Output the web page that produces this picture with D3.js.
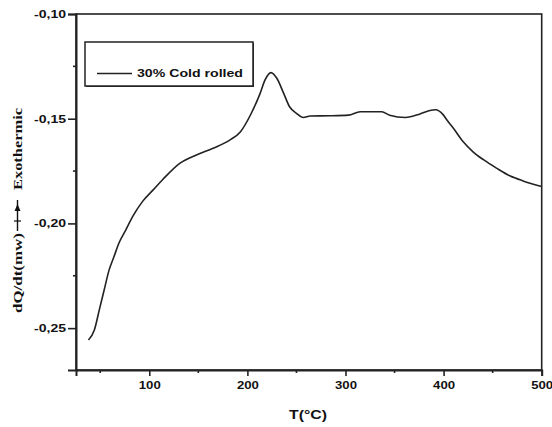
<!DOCTYPE html>
<html>
<head>
<meta charset="utf-8">
<script src="https://cdn.jsdelivr.net/npm/d3@7"></script>
<style>
  html, body { margin: 0; padding: 0; background: #fff; }
  svg { display: block; }
  text { fill: #111; }
</style>
</head>
<body>
<svg id="chart" width="552" height="427"></svg>
<script>
// DSC trace of the 30% cold rolled sample: heat flow vs temperature
const temperature = [38, 44, 49, 54, 59, 64, 69, 76, 83, 93, 104, 114, 131, 148, 165, 182, 193, 204, 213, 218, 224, 230, 237, 243, 250, 257, 264, 284, 303, 315, 337, 345, 361, 376, 385, 392, 399, 404, 410, 420, 430, 441, 454, 468, 481, 500];
const heatFlow = [-0.2557, -0.2509, -0.2414, -0.2318, -0.2223, -0.2159, -0.2095, -0.2032, -0.1968, -0.1896, -0.1840, -0.1789, -0.1713, -0.1673, -0.1641, -0.1602, -0.1562, -0.1474, -0.1379, -0.1315, -0.1280, -0.1307, -0.1379, -0.1443, -0.1474, -0.1494, -0.1487, -0.1486, -0.1483, -0.1467, -0.1467, -0.1483, -0.1494, -0.1477, -0.1462, -0.1457, -0.1478, -0.1510, -0.1546, -0.1610, -0.1658, -0.1697, -0.1736, -0.1774, -0.1797, -0.1824];
const xTicks = [100, 200, 300, 400, 500];
const xMinorTicks = [50, 150, 250, 350, 450];
const yTicks = [-0.10, -0.15, -0.20, -0.25];
const yMinorTicks = [-0.125, -0.175, -0.225];
const seriesName = "30% Cold rolled";
const xTitle = "T(°C)";
const yTitleLower = "dQ/dt(mw)";
const yTitleUpper = "Exothermic";

const svg = d3.select("#chart");
const plotLeft = 76, plotRight = 541.7, plotTop = 14, plotBottom = 370;

const x = d3.scaleLinear().domain([25.3, 500]).range([plotLeft, plotRight]);
const y = d3.scaleLinear().domain([-0.27, -0.10]).range([plotBottom, plotTop]);

const fmt = v => d3.format(".2f")(v).replace(".", ",").replace("−", "-");

// frame
svg.append("rect")
  .attr("x", plotLeft).attr("y", plotTop)
  .attr("width", plotRight - plotLeft).attr("height", plotBottom - plotTop)
  .attr("fill", "none").attr("stroke", "#222").attr("stroke-width", 1.6);

// bottom axis
const xAxis = svg.append("g").attr("transform", `translate(0,${plotBottom})`);
xAxis.call(d3.axisBottom(x).tickValues(xTicks).tickSize(6).tickFormat(d3.format("d")));
xAxis.select(".domain").attr("stroke-width", 2).attr("stroke", "#222");
xAxis.selectAll(".tick line").attr("stroke-width", 1.6).attr("stroke", "#222");
xAxis.selectAll(".tick text")
  .attr("y", 11).attr("dy", "0.71em")
  .attr("font-family", "Liberation Sans, Arial, sans-serif")
  .attr("font-size", 11).attr("font-weight", "bold")
  .attr("textLength", 22).attr("lengthAdjust", "spacingAndGlyphs")
  .attr("fill", "#333");
xAxis.append("g").selectAll("line").data(xMinorTicks).join("line")
  .attr("x1", d => x(d)).attr("x2", d => x(d))
  .attr("y1", 0).attr("y2", 3)
  .attr("stroke", "#222").attr("stroke-width", 1.6);

// left axis
const yAxis = svg.append("g").attr("transform", `translate(${plotLeft},0)`);
yAxis.call(d3.axisLeft(y).tickValues(yTicks).tickSize(8).tickFormat(fmt));
yAxis.select(".domain").attr("stroke-width", 2).attr("stroke", "#222");
yAxis.selectAll(".tick line").attr("stroke-width", 1.6).attr("stroke", "#222");
yAxis.selectAll(".tick text")
  .attr("x", -10)
  .attr("font-family", "Liberation Sans, Arial, sans-serif")
  .attr("font-size", 11).attr("font-weight", "bold")
  .attr("textLength", 32).attr("lengthAdjust", "spacingAndGlyphs")
  .attr("fill", "#333");
yAxis.append("g").selectAll("line").data(yMinorTicks).join("line")
  .attr("x1", 0).attr("x2", -3)
  .attr("y1", d => y(d)).attr("y2", d => y(d))
  .attr("stroke", "#222").attr("stroke-width", 1.6);

// axis titles
svg.append("text")
  .attr("x", 308).attr("y", 419)
  .attr("text-anchor", "middle")
  .attr("font-family", "Liberation Sans, Arial, sans-serif")
  .attr("font-size", 12).attr("font-weight", "bold")
  .attr("textLength", 38).attr("lengthAdjust", "spacingAndGlyphs")
  .attr("fill", "#222")
  .text(xTitle);

const yTitle = svg.append("g").attr("transform", "translate(22,0) rotate(-90)");
yTitle.append("text")
  .attr("x", -273).attr("y", 0)
  .attr("text-anchor", "middle")
  .attr("font-family", "Liberation Serif, Times New Roman, serif")
  .attr("font-size", 13).attr("font-weight", "bold")
  .attr("textLength", 80).attr("lengthAdjust", "spacingAndGlyphs")
  .text(yTitleLower);
yTitle.append("text")
  .attr("x", -149).attr("y", 0)
  .attr("text-anchor", "middle")
  .attr("font-family", "Liberation Serif, Times New Roman, serif")
  .attr("font-size", 13).attr("font-weight", "bold")
  .attr("textLength", 82).attr("lengthAdjust", "spacingAndGlyphs")
  .text(yTitleUpper);

// exothermic direction arrow
svg.append("line")
  .attr("x1", 17.5).attr("x2", 17.5).attr("y1", 231).attr("y2", 200)
  .attr("stroke", "#111").attr("stroke-width", 1.4);
svg.append("path")
  .attr("d", "M17.5,204 L14.5,211 L20.5,211 Z")
  .attr("fill", "#111");
svg.append("line")
  .attr("x1", 14).attr("x2", 21).attr("y1", 221).attr("y2", 221)
  .attr("stroke", "#111").attr("stroke-width", 1.2);

// data curve
const line = d3.line()
  .x((d, i) => x(temperature[i]))
  .y(d => y(d))
  .curve(d3.curveMonotoneX);
svg.append("path")
  .datum(heatFlow)
  .attr("d", line)
  .attr("fill", "none")
  .attr("stroke", "#222")
  .attr("stroke-width", 1.6);

// legend
const legend = svg.append("g");
legend.append("rect")
  .attr("x", 86).attr("y", 43).attr("width", 168).attr("height", 44)
  .attr("fill", "#333");
legend.append("rect")
  .attr("x", 85).attr("y", 42).attr("width", 168).attr("height", 44)
  .attr("fill", "#fff").attr("stroke", "#222").attr("stroke-width", 1.5);
legend.append("line")
  .attr("x1", 97).attr("x2", 132).attr("y1", 73.5).attr("y2", 73.5)
  .attr("stroke", "#222").attr("stroke-width", 1.6);
legend.append("text")
  .attr("x", 137).attr("y", 77)
  .attr("font-family", "Liberation Sans, Arial, sans-serif")
  .attr("font-size", 10).attr("font-weight", "bold")
  .attr("textLength", 106).attr("lengthAdjust", "spacingAndGlyphs")
  .attr("fill", "#222")
  .text(seriesName);
</script>
</body>
</html>
